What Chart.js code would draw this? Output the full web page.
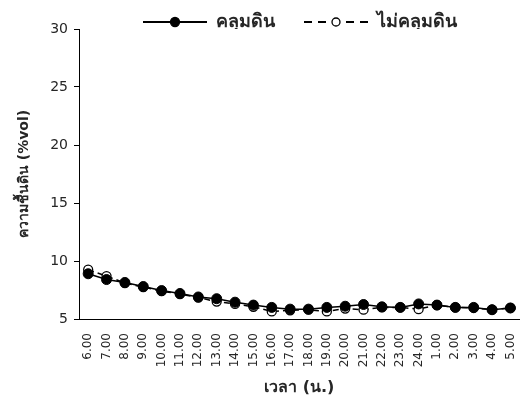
<!DOCTYPE html>
<html><head><meta charset="utf-8">
<script src="https://cdn.jsdelivr.net/npm/chart.js@4/dist/chart.umd.min.js"></script>
<style>html,body{margin:0;padding:0;background:#fff}#wrap{width:531px;height:401px}</style>
</head><body><div id="wrap"><canvas id="c" width="531" height="401"></canvas></div>
<script>
const categories = ["6.00","7.00","8.00","9.00","10.00","11.00","12.00","13.00","14.00","15.00","16.00","17.00","18.00","19.00","20.00","21.00","22.00","23.00","24.00","1.00","2.00","3.00","4.00","5.00"];
const covered =   [8.9,8.4,8.15,7.8,7.45,7.2,6.9,6.75,6.45,6.2,6.0,5.85,5.85,6.0,6.1,6.25,6.05,6.0,6.3,6.2,6.0,6.0,5.8,5.95];
const uncovered = [9.25,8.7,8.1,7.75,7.4,7.15,6.85,6.5,6.3,6.05,5.65,5.75,5.8,5.65,5.9,5.8,6.0,6.0,5.85,6.2,6.0,5.95,5.8,5.95];
const yTicks = [5,10,15,20,25,30];
const seriesNames = ["คลุมดิน","ไม่คลุมดิน"];
const FONT = "'DejaVu Sans', 'Noto Sans', sans-serif";

function legendIcon(dashed, filled){
  const extra = 16;
  const cv = document.createElement('canvas');
  cv.width = 64 + extra; cv.height = 14;
  const g = cv.getContext('2d');
  g.strokeStyle = '#000'; g.lineWidth = 2;
  if (dashed) g.setLineDash([8,6]);
  g.beginPath(); g.moveTo(extra,7); g.lineTo(extra+64,7); g.stroke();
  g.setLineDash([]);
  g.beginPath(); g.arc(extra+32,7,filled?4.5:4,0,Math.PI*2);
  g.fillStyle = filled ? '#000' : '#fff'; g.fill();
  g.lineWidth = 1.3; g.stroke();
  return cv;
}
const icons = [legendIcon(false,true), legendIcon(true,false)];

const legendFix = {
  id:'legendFix',
  afterInit(chart){
    const lg = chart.legend;
    if(!lg) return;
    const orig = lg.fit.bind(lg);
    lg.fit = function(){ orig(); this.height = 29; };
  },
  afterLayout(chart){
    if(chart.legend) chart.legend.left += 48;
  }
};

new Chart(document.getElementById('c'), {
  type: 'line',
  data: {
    labels: categories,
    datasets: [
      {label: seriesNames[0], data: covered, borderColor:'#000', borderWidth:1.5,
       pointRadius:5, pointBackgroundColor:'#000', pointBorderColor:'#000', pointBorderWidth:1, tension:0},
      {label: seriesNames[1], data: uncovered, borderColor:'#000', borderWidth:1.5, borderDash:[6,4],
       pointRadius:4.5, pointBackgroundColor:'#fff', pointBorderColor:'#000', pointBorderWidth:1.3, tension:0}
    ]
  },
  plugins:[legendFix],
  options: {
    responsive:false, animation:false, devicePixelRatio:1,
    layout:{padding:{left:14,right:9,top:0,bottom:0}},
    plugins:{
      tooltip:{enabled:false},
      legend:{position:'top', align:'center',
        labels:{usePointStyle:true, pointStyleWidth:80, padding:13, color:'#262626',
          font:{family:FONT, size:18, weight:'bold'},
          generateLabels:(chart)=>chart.data.datasets.map((d,i)=>({text:d.label, pointStyle:icons[i], datasetIndex:i, fontColor:'#262626', lineWidth:0, strokeStyle:'transparent', fillStyle:'transparent'}))
        }
      }
    },
    scales:{
      x:{offset:true,
        grid:{display:false},
        border:{display:true,color:'#000',width:1},
        ticks:{minRotation:90,maxRotation:90,autoSkip:false,color:'#262626',font:{family:FONT,size:12},padding:6},
        title:{display:true,text:'เวลา (น.)',color:'#262626',font:{family:FONT,size:16,weight:'bold'},padding:{top:2,bottom:4}},
        afterFit:(s)=>{s.height=82;}
      },
      y:{min:5,max:30,
        afterBuildTicks:(s)=>{s.ticks = yTicks.map(v=>({value:v}));},
        grid:{display:true,drawOnChartArea:false,drawTicks:true,tickLength:5,color:'#000'},
        border:{display:true,color:'#000',width:1},
        ticks:{color:'#262626',font:{family:FONT,size:14},padding:6},
        title:{display:true,text:'ความชื้นดิน (%vol)',color:'#262626',font:{family:FONT,size:14,weight:'bold'},padding:{top:2,bottom:4}},
        afterFit:(s)=>{s.width=65;}
      }
    }
  }
});
</script></body></html>
